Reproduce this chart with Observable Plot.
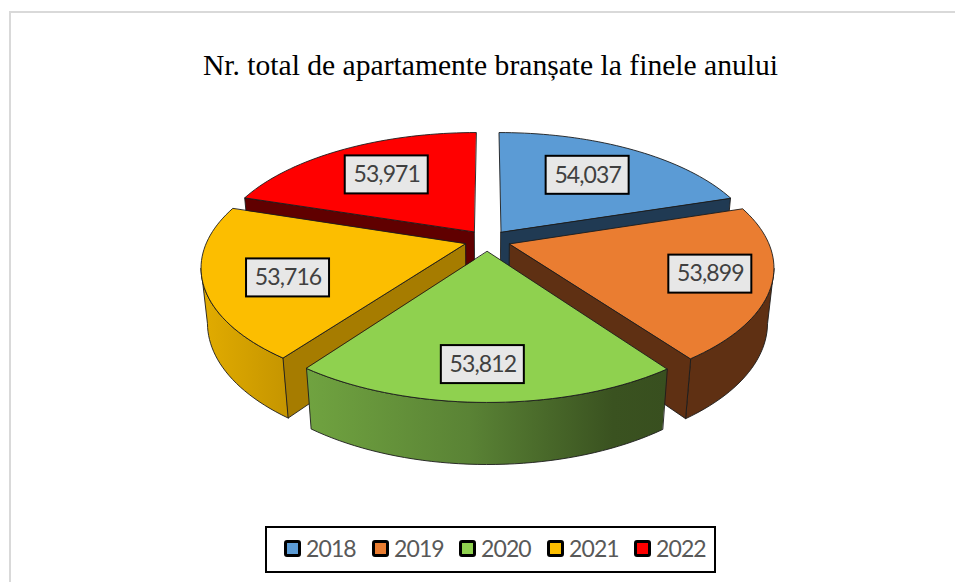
<!DOCTYPE html>
<html lang="ro">
<head>
<meta charset="utf-8">
<title>Nr. total de apartamente branșate la finele anului</title>
<script src="https://cdn.jsdelivr.net/npm/d3@7"></script>
<script src="https://cdn.jsdelivr.net/npm/@observablehq/plot@0.6"></script>
<style>
  html, body { margin: 0; padding: 0; background: #fff; }
  body { width: 955px; height: 582px; overflow: hidden; position: relative; }
  #frame { position: absolute; left: 9px; top: 11px; width: 946px; height: 571px; box-sizing: border-box;
           border-left: 2px solid #d9d9d9; border-top: 2px solid #d9d9d9; }
  #title { position: absolute; left: 0; width: 981px; top: 45px; text-align: center; color: #000;
           font: 29.6px/40px "Liberation Serif", serif; white-space: nowrap; }
  #chart { position: absolute; left: 0; top: 100px; }
  #chart svg { display: block; }
  #chart text { letter-spacing: -0.9px; }
  #legend { position: absolute; left: 265px; top: 526px; width: 451px; height: 47px; box-sizing: border-box;
            border: 2px solid #000; font: 23px/1 Lato, sans-serif; letter-spacing: -0.9px; color: #595959; }
  #legend .item { position: absolute; display: flex; align-items: center; top: 9px; }
  #legend i { display: block; width: 17px; height: 17px; box-sizing: border-box; border: 3px solid #000; border-radius: 3px; margin-right: 5px; }
</style>
</head>
<body>
<div id="frame"></div>
<div id="title">Nr. total de apartamente branșate la finele anului</div>
<div id="chart"></div>
<div id="legend"></div>
<script>
const years  = ["2018", "2019", "2020", "2021", "2022"];
const values = [54037, 53899, 53812, 53716, 53971];
const topColors  = ["#5b9bd5", "#ea7d31", "#8fd14f", "#fcbe00", "#ff0000"];
const wallColors = ["#203a53", "#5f3013", "#3b5220", "#a67c00", "#600000"];
const rimColors  = ["#203a53", "#5f3013", "url(#rimGreen)", "url(#rimYellow)", "#600000"];
const labelRadii  = [0.74, 0.865, 0.875, 0.79, 0.745];
const labelAngles = [35.5, 108, 181, 248, 324.5];

// Perspective view of a tilted disc
const view = {cx: 487, cy: 240, sx: 258, sy: 119.8, persp: 0.1776, explode: 0.09, drop: 55, dropPersp: 0.022};
function project(X, Y, low) {
  const w = 1 - view.persp * Y + (low ? view.dropPersp : 0);
  return {
    x: view.cx + view.sx * X / w,
    y: view.cy + (view.sy * Y + (low ? view.drop : 0)) / w
  };
}

const arcs = d3.pie().sort(null).value(d => d)(values);
function rimPoint(a, mid, r, low) {
  const e = view.explode;
  return project(r * Math.sin(a) + e * Math.sin(mid), -r * Math.cos(a) - e * Math.cos(mid), low);
}
function arcPoints(a0, a1, mid, low) {
  const n = Math.ceil(Math.abs(a1 - a0) / 0.03);
  return d3.range(n + 1).map(i => rimPoint(a0 + (a1 - a0) * i / n, mid, 1, low));
}
const farthest = pts => d3.greatestIndex(pts, p => Math.abs(p.x - view.cx));

const slices = arcs.map((p, i) => {
  const mid = (p.startAngle + p.endAngle) / 2;
  const hub = rimPoint(0, mid, 0, false);
  const hubLow = rimPoint(0, mid, 0, true);
  const upper = arcPoints(p.startAngle, p.endAngle, mid, false);
  const lower = arcPoints(p.startAngle, p.endAngle, mid, true);
  const top = [hub, ...upper];

  // The outer rim: only the front part, from the silhouette tangent to the front corner
  let rim = null;
  if (Math.abs(mid - Math.PI) < 0.2) {
    rim = [...upper, ...lower.slice().reverse()];
  } else if (-Math.cos(mid) > 0) {
    if (mid < Math.PI) {
      rim = [...upper.slice(farthest(upper)), ...lower.slice(farthest(lower)).reverse()];
    } else {
      rim = [...upper.slice(0, farthest(upper) + 1), ...lower.slice(0, farthest(lower) + 1).reverse()];
    }
  }

  // The cut wall facing the viewer
  let wall = null;
  if (Math.abs(mid - Math.PI) >= 0.2) {
    const a = mid < Math.PI ? p.endAngle : p.startAngle;
    wall = [hub, rimPoint(a, mid, 1, false), rimPoint(a, mid, 1, true), hubLow];
  }

  const ra = labelAngles[i] * Math.PI / 180;
  const label = project(labelRadii[i] * Math.sin(ra), -labelRadii[i] * Math.cos(ra), false);
  return {i, top, rim, wall, label, value: values[i]};
});

const edge = {stroke: "#1c1c1c", strokeWidth: 0.9, strokeLinejoin: "round", curve: "linear-closed", x: "x", y: "y"};
const order = [4, 0, 3, 1, 2]; // far slices first
const sliceMarks = order.flatMap(i => {
  const s = slices[i];
  return [
    s.rim  && Plot.line(s.rim,  {...edge, fill: rimColors[i]}),
    s.wall && Plot.line(s.wall, {...edge, fill: wallColors[i]}),
    Plot.line(s.top, {...edge, fill: topColors[i]})
  ].filter(Boolean);
});

const labels = slices.map(s => ({x: s.label.x, y: s.label.y, text: d3.format(",")(s.value)}));
const boxW = 41.5, boxH = 19;

const plot = Plot.plot({
  width: 955,
  height: 420,
  margin: 0,
  x: {domain: [0, 955], range: [0, 955], axis: null},
  y: {domain: [100, 520], range: [0, 420], axis: null},
  marks: [
    () => {
      const ns = "http://www.w3.org/2000/svg";
      const defs = document.createElementNS(ns, "defs");
      const grads = {
        rimGreen: [["0%", "#70a340"], ["45%", "#5a8335"], ["85%", "#3a5220"], ["100%", "#384f1f"]],
        rimYellow: [["0%", "#e2ac00"], ["100%", "#c59500"]]
      };
      for (const [id, stops] of Object.entries(grads)) {
        const g = document.createElementNS(ns, "linearGradient");
        g.setAttribute("id", id);
        for (const [o, c] of stops) {
          const s = document.createElementNS(ns, "stop");
          s.setAttribute("offset", o);
          s.setAttribute("stop-color", c);
          g.appendChild(s);
        }
        defs.appendChild(g);
      }
      return defs;
    },
    ...sliceMarks,
    Plot.rect(labels, {
      x1: d => d.x - boxW, x2: d => d.x + boxW,
      y1: d => d.y - boxH, y2: d => d.y + boxH,
      fill: "#e7e7e7", stroke: "#000", strokeWidth: 2
    }),
    Plot.text(labels, {
      x: "x", y: "y", text: "text", fill: "#404040",
      fontSize: 23, fontFamily: "Lato, sans-serif", textAnchor: "middle", lineAnchor: "middle"
    })
  ]
});
document.getElementById("chart").appendChild(plot);

const legendX = [17, 105, 192, 280, 367];
const legend = document.getElementById("legend");
years.forEach((y, i) => {
  const item = document.createElement("div");
  item.className = "item";
  item.style.left = legendX[i] + "px";
  const sw = document.createElement("i");
  sw.style.background = topColors[i];
  item.appendChild(sw);
  item.appendChild(document.createTextNode(y));
  legend.appendChild(item);
});
</script>
</body>
</html>
